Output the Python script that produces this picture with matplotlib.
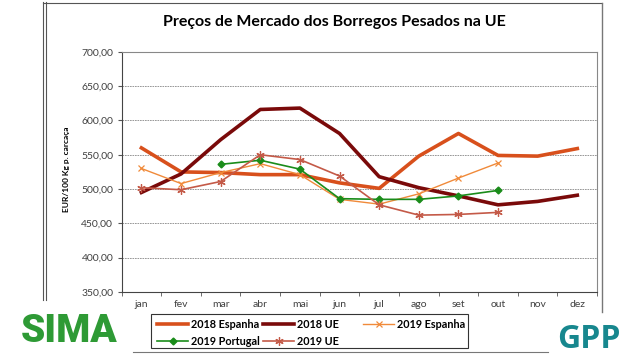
import matplotlib.pyplot as plt
import numpy as np
from matplotlib.lines import Line2D
from matplotlib.patches import Rectangle

plt.rcParams['font.family'] = ['Lato', 'DejaVu Sans']

meses = ['jan', 'fev', 'mar', 'abr', 'mai', 'jun', 'jul', 'ago', 'set', 'out', 'nov', 'dez']

esp_2018 = [560, 525, 524, 521, 521, 509, 501, 548, 581, 549, 548, 559]
ue_2018 = [495, 522, 572, 616, 618, 581, 518, 502, 490, 477, 482, 491]
esp_2019 = [530, 508, 524, 537, 521, 485, 478, 493, 516, 538]
port_2019 = [None, None, 536, 542, 529, 486, 485, 485, 490, 498]
ue_2019 = [502, 499, 511, 550, 543, 519, 477, 462, 463, 466]

fig = plt.figure(figsize=(6.4, 3.6), dpi=100)
ax = fig.add_axes([0.190, 0.189, 0.743, 0.667])

x = np.arange(len(meses))
l1, = ax.plot(x, esp_2018, color='#D8501C', lw=2.6, label='2018 Espanha')
l2, = ax.plot(x, ue_2018, color='#7A0A0A', lw=2.6, label='2018 UE')
l3, = ax.plot(x[:len(esp_2019)], esp_2019, color='#F08A3A', lw=1.0,
              marker='x', ms=5, mew=0.9, label='2019 Espanha')
port = np.array([np.nan if v is None else v for v in port_2019], dtype=float)
l4, = ax.plot(x[:len(port)], port, color='#1A8C1A', lw=1.2,
              marker='D', ms=3.5, label='2019 Portugal')
l5, = ax.plot(x[:len(ue_2019)], ue_2019, color='#C45A48', lw=1.2,
              marker=(6, 2, 0), ms=6, mew=0.9, label='2019 UE')

ax.set_xlim(-0.5, 11.5)
ax.set_ylim(350, 700)
ax.set_yticks(np.arange(350, 701, 50))
ax.set_yticklabels(['%d,00' % v for v in range(350, 701, 50)], fontsize=7.5, color='#404040')
ax.set_xticks(x)
ax.set_xticklabels(meses, fontsize=7.5, color='#404040')
ax.set_xticks(np.arange(-0.5, 12, 1), minor=True)
ax.tick_params(axis='x', which='major', length=0, pad=6)
ax.tick_params(axis='x', which='minor', length=3, direction='out', color='#555555')
ax.tick_params(axis='y', length=3, direction='out', color='#555555', pad=3)
ax.grid(axis='y', color='#888888', ls=(0, (2, 1)), lw=0.6)
ax.set_axisbelow(True)
for s in ax.spines.values():
    s.set_color('#888888')
    s.set_linewidth(0.8)
ax.spines['left'].set_color('#444444')
ax.spines['bottom'].set_color('#444444')

fig.text(66 / 640, 0.530, 'EUR/100 Kg p. carcaça', rotation=90, fontsize=6,
         fontweight='bold', ha='center', va='center')
fig.text(334 / 640, 1 - 22 / 360, 'Preços de Mercado dos Borregos Pesados na UE',
         fontsize=11.5, fontweight='bold', ha='center', va='center')

# moldura do gráfico colado
for xx in (43 / 640, 45.5 / 640):
    fig.add_artist(Line2D([xx, xx], [1 - 2 / 360, 1 - 300 / 360], color='#555555', lw=0.8))
fig.add_artist(Line2D([43 / 640, 602 / 640], [1 - 2.5 / 360, 1 - 2.5 / 360], color='#555555', lw=0.8))
fig.add_artist(Line2D([602 / 640, 602 / 640], [1 - 2.5 / 360, 1 - 312 / 360], color='#777777', lw=1.0))
fig.add_artist(Line2D([133 / 640, 548 / 640], [1 - 352 / 360, 1 - 352 / 360], color='#777777', lw=0.8))

# legenda: caixa + duas partes
fig.add_artist(Rectangle((151 / 640, 1 - 348 / 360), 317 / 640, 34 / 360,
                         transform=fig.transFigure, fill=False, ec='#333333', lw=0.8))
kw = dict(frameon=False, handlelength=2.9, handletextpad=0.25, labelspacing=0.55,
          borderpad=0.45, borderaxespad=0, prop={'weight': 'bold', 'size': 7.8})
legA = fig.legend([l1, l4, l2, l5], ['2018 Espanha', '2019 Portugal', '2018 UE', '2019 UE'],
                  ncol=2, loc='upper left', columnspacing=0.3,
                  bbox_to_anchor=(152 / 640, 1 - 314 / 360), **kw)
legB = fig.legend([l3], ['2019 Espanha'], loc='upper left',
                  bbox_to_anchor=(358 / 640, 1 - 314 / 360), **kw)

# logotipos
fig.text(69 / 640, 1 - 332 / 360, 'SIMA', fontsize=28, fontweight='heavy',
         color='#2E9A35', ha='center', va='center', family=['Roboto', 'DejaVu Sans'])
fig.text(589 / 640, 1 - 340 / 360, 'GPP', fontsize=23, fontweight='bold',
         color='#17878E', ha='center', va='center', family=['Open Sans', 'DejaVu Sans'])

fig.savefig('out.png', dpi=100)
